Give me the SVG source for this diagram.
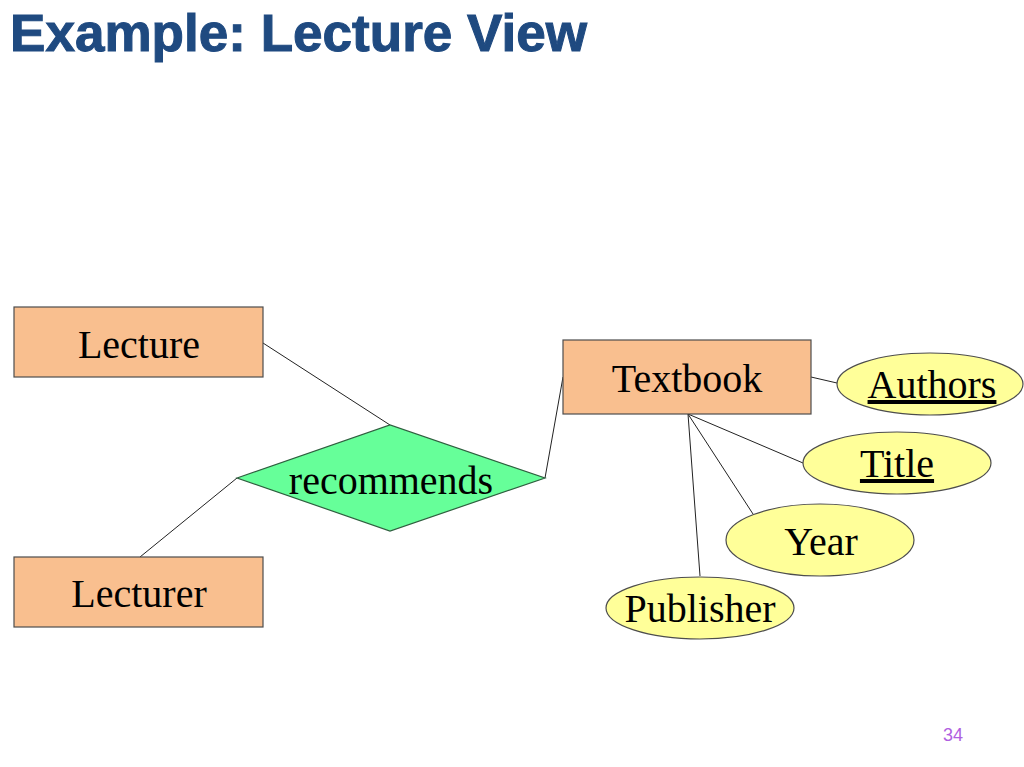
<svg xmlns="http://www.w3.org/2000/svg" width="1024" height="767" viewBox="0 0 1024 767">
<style>
.ent{fill:#F9BF8F;stroke:#4d4d4d;stroke-width:1.2}
.rel{fill:#66FF99;stroke:#2f5f3f;stroke-width:1.2}
.att{fill:#FFFF99;stroke:#4d4d4d;stroke-width:1.2}
.lbl{font-family:"Liberation Serif","Times New Roman",serif;font-size:40px;fill:#000;text-anchor:middle}
.conn line{stroke:#222;stroke-width:1}
</style>
<rect width="1024" height="767" fill="#fff"/>
<text x="10" y="51" font-family="Liberation Sans, Arial, sans-serif" font-weight="bold" font-size="51" fill="#1F4A80" stroke="#1F4A80" stroke-width="1" textLength="577" lengthAdjust="spacingAndGlyphs">Example: Lecture View</text>
<g class="conn">
<line x1="263" y1="343" x2="390" y2="425"/>
<line x1="140" y1="557" x2="237" y2="478"/>
<line x1="545" y1="478" x2="563" y2="377"/>
<line x1="811" y1="377" x2="837" y2="383"/>
<line x1="688" y1="414" x2="803" y2="463"/>
<line x1="688" y1="414" x2="753" y2="514"/>
<line x1="688" y1="414" x2="700" y2="576"/>
</g>
<g id="lecture"><rect class="ent" x="14" y="307" width="249" height="70"/><text class="lbl" x="139" y="358">Lecture</text></g>
<g id="lecturer"><rect class="ent" x="14" y="557" width="249" height="70"/><text class="lbl" x="139" y="607">Lecturer</text></g>
<g id="recommends"><polygon class="rel" points="237,478 390,425 545,478 390,531"/><text class="lbl" x="391" y="494">recommends</text></g>
<g id="textbook"><rect class="ent" x="563" y="340" width="248" height="74"/><text class="lbl" x="687" y="392">Textbook</text></g>
<g id="authors"><ellipse class="att" cx="930" cy="384" rx="93" ry="31"/><text class="lbl" x="932" y="398" text-decoration="underline">Authors</text></g>
<g id="title"><ellipse class="att" cx="897" cy="463" rx="94" ry="31"/><text class="lbl" x="897" y="477" text-decoration="underline">Title</text></g>
<g id="year"><ellipse class="att" cx="820" cy="540" rx="94" ry="36"/><text class="lbl" x="821" y="555">Year</text></g>
<g id="publisher"><ellipse class="att" cx="700" cy="608" rx="94" ry="31"/><text class="lbl" x="700" y="622">Publisher</text></g>
<text x="953" y="741" font-family="Liberation Sans, Arial, sans-serif" font-size="18" fill="#B060E0" text-anchor="middle">34</text>
</svg>
